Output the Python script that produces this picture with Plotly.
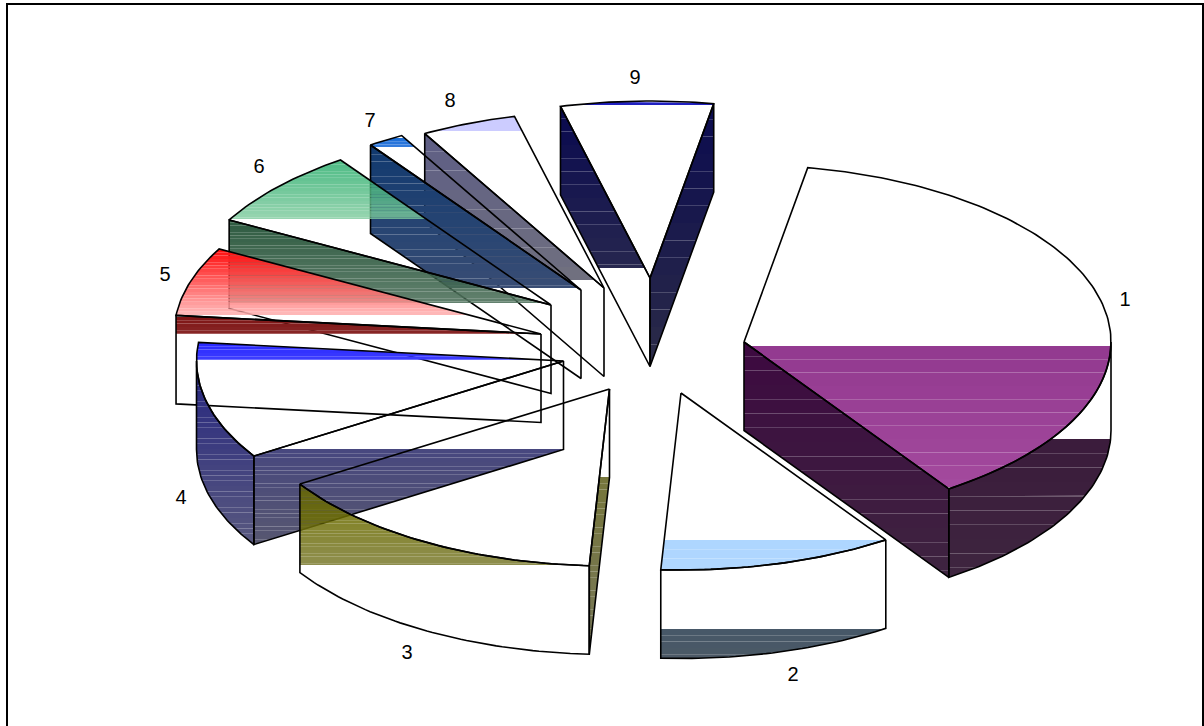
import math
import plotly.graph_objects as go

# ---------- data ----------
categories = ["1", "2", "3", "4", "5", "6", "7", "8", "9"]
slice_values = [37.8, 10.3, 15.1, 10.7, 6.3, 7.3, 1.6, 4.2, 6.7]

# ---------- geometry / style ----------
W, H = 1204, 726
CX, CY = 654, 343
RX, RY = 367, 177
DEPTH = 88.5
START_ANGLE = 10
pull_x = [90, 27, -44.5, -90.5, -113, -103, -73, -50, -4]
pull_y = [-1, 50, 46, 18, -9, -38, -53, -55, -65]
label_x = [1125, 793, 407, 181, 165, 259, 370, 450, 635]
label_y = [301, 676, 654, 499, 276, 168, 122, 102, 79]

# surface paint bands: slice index, surface -> (y0, y1, colour0, colour1, alpha0, alpha1, step)
bands = {
    (0, "top"): (346, 487, "#933a90", "#a54b9f", 1, 1, 13.3),
    (0, "end"): (342, 576, "#3d0a40", "#3f2640", 1, 1, 14.3),
    (0, "outer"): (439, 576, "#3b1c3c", "#3f2640", 1, 1, 14.3),
    (1, "top"): (540, 570, "#aed6ff", "#b2d8ff", 1, 1, 9.3),
    (1, "outer"): (629, 658, "#475868", "#4d5a66", 1, 1, 6.3),
    (2, "outer"): (484, 565, "#7d7d10", "#8f8f50", .85, .85, 3.3),
    (2, "start"): (477, 653, "#76763c", "#78785a", 1, 1, 6.3),
    (3, "top"): (343, 360, "#2a2aff", "#4040ff", 1, 1, 3.3),
    (3, "outer"): (343, 545, "#20207f", "#5a5a80", 1, 1, 5.3),
    (3, "start"): (449, 545, "#48487f", "#585870", 1, 1, 4.3),
    (4, "top"): (249, 315, "#ff1010", "#ffc0c0", 1, .85, 3.3),
    (4, "start"): (317, 334, "#7f1515", "#8a2a2a", 1, 1, 3.3),
    (5, "top"): (158, 219, "#4dbb85", "#9ad6b2", .8, .8, 3.3),
    (5, "start"): (219, 303, "#2f5c42", "#64826f", .9, .9, 3.3),
    (6, "top"): (138, 147, "#1f70d8", "#3a80e0", 1, 1, 3.3),
    (6, "start"): (147, 288, "#123a70", "#3a4e75", 1, 1, 7.3),
    (7, "top"): (115, 131, "#ccccff", "#ccccff", 1, 1, 16),
    (7, "start"): (132, 280, "#5f5f85", "#72727f", 1, 1, 19.3),
    (8, "top"): (102, 105, "#2020c0", "#2020c0", 1, 1, 3),
    (8, "start"): (105, 268, "#0a0a50", "#28284f", 1, 1, 13.3),
    (8, "end"): (102, 367, "#0c0c50", "#2d2d48", 1, 1, 17.3),
}
DRAW_ORDER = [8, 7, 6, 5, 4, 3, 2, 1, 0]


def rgb(h):
    return [int(h[i:i + 2], 16) for i in (1, 3, 5)]


def band_colour(c0, c1, a0, a1, t):
    """Colour whose look on white equals the wanted tone, at alpha a."""
    a = a0 + (a1 - a0) * t
    seen = [u + (v - u) * t for u, v in zip(rgb(c0), rgb(c1))]
    base = [max(0, min(255, (s - (1 - a) * 255) / a)) for s in seen]
    return "rgba(%d,%d,%d,%.3f)" % (base[0], base[1], base[2], a)


def clip(poly, y, keep_below):
    out = []
    for i, p in enumerate(poly):
        q = poly[(i + 1) % len(poly)]
        pin = (p[1] >= y) if keep_below else (p[1] <= y)
        qin = (q[1] >= y) if keep_below else (q[1] <= y)
        if pin:
            out.append(p)
        if pin != qin:
            t = (y - p[1]) / (q[1] - p[1])
            out.append((p[0] + (q[0] - p[0]) * t, y))
    return out


def arc(ox, oy, a0, a1, dz=0.0):
    n = max(2, int(abs(a1 - a0)) + 1)
    pts = []
    for k in range(n + 1):
        th = math.radians(a0 + (a1 - a0) * k / n)
        pts.append((ox + RX * math.sin(th), oy - RY * math.cos(th) + dz))
    return pts


total = sum(slice_values)
angles = [START_ANGLE]
for v in slice_values:
    angles.append(angles[-1] + v / total * 360)

fig = go.Figure()


def add_fill(poly, key):
    if key not in bands:
        return
    y0, y1, c0, c1, a0, a1, step = bands[key]
    y = y0
    while y < y1:
        ye = min(y + step, y1)
        piece = clip(clip(poly, y, True), ye, False)
        if len(piece) >= 3:
            t = (y - y0) / max(1e-6, y1 - y0)
            fig.add_trace(go.Scatter(
                x=[round(p[0], 2) for p in piece] + [round(piece[0][0], 2)],
                y=[round(p[1], 2) for p in piece] + [round(piece[0][1], 2)],
                mode="lines", fill="toself", fillcolor=band_colour(c0, c1, a0, a1, t),
                line=dict(width=0), hoverinfo="skip", showlegend=False))
        y = ye


def add_outline(poly):
    xs = [round(p[0], 2) for p in poly] + [round(poly[0][0], 2)]
    ys = [round(p[1], 2) for p in poly] + [round(poly[0][1], 2)]
    fig.add_trace(go.Scatter(x=xs, y=ys, mode="lines",
                             line=dict(color="black", width=1.6),
                             hoverinfo="skip", showlegend=False))


for i in DRAW_ORDER:
    a0, a1 = angles[i], angles[i + 1]
    ox, oy = CX + pull_x[i], CY + pull_y[i]
    surfaces = []
    s0, e0 = math.sin(math.radians(a0)), math.sin(math.radians(a1))
    if s0 < 0:  # start edge faces the viewer
        p = arc(ox, oy, a0, a0)[0]
        surfaces.append(("start", [(ox, oy), p, (p[0], p[1] + DEPTH), (ox, oy + DEPTH)]))
    if e0 > 0:  # end edge faces the viewer
        p = arc(ox, oy, a1, a1)[0]
        surfaces.append(("end", [(ox, oy), p, (p[0], p[1] + DEPTH), (ox, oy + DEPTH)]))
    w0, w1 = max(a0, 90), min(a1, 270)
    if w1 > w0:
        surfaces.append(("outer", arc(ox, oy, w0, w1) + arc(ox, oy, w1, w0, DEPTH)))
    surfaces.append(("top", [(ox, oy)] + arc(ox, oy, a0, a1)))
    for name, poly in surfaces:
        add_fill(poly, (i, name))
    for name, poly in surfaces:
        add_outline(poly)

fig.add_trace(go.Scatter(
    x=label_x, y=label_y, text=categories, mode="text",
    textfont=dict(family="Liberation Sans, Arial", size=20, color="black"),
    textposition="middle center", hoverinfo="skip", showlegend=False))

fig.update_layout(
    width=W, height=H, margin=dict(l=0, r=0, t=0, b=0),
    paper_bgcolor="white", plot_bgcolor="white", showlegend=False,
    xaxis=dict(range=[0, W], visible=False, fixedrange=True),
    yaxis=dict(range=[H, 0], visible=False, fixedrange=True),
    shapes=[dict(type="rect", xref="x", yref="y", x0=7, y0=4, x1=1203, y1=732,
                 line=dict(color="black", width=2), fillcolor="rgba(0,0,0,0)", layer="below")],
)
fig.write_html("out.html", config={"displayModeBar": False},
               post_script="document.body.style.margin='0';")
